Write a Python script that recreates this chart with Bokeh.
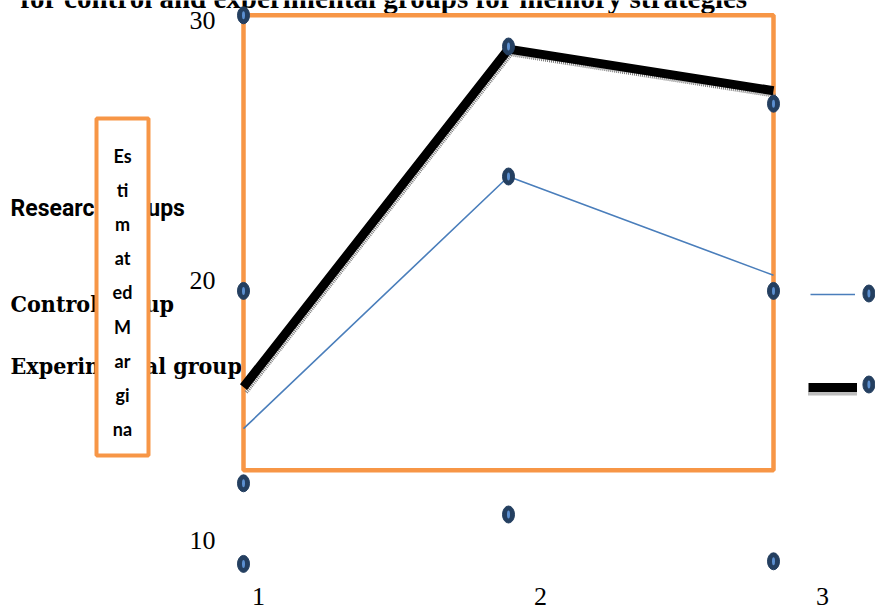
from bokeh.plotting import figure
from bokeh.models import Range1d, Legend, LegendItem, ColumnDataSource
from bokeh.core.properties import value
from bokeh.transform import dodge
from bokeh.embed import file_html
from bokeh.resources import INLINE

# ---- data ----
groups_x = [1, 2, 3]
control = [14.3, 24.0, 20.2]
experimental = [15.9, 28.9, 27.3]
series_names = ["Control group", "Experimental group"]
legend_title = "Research groups"
axis_title_fragments = ["Es", "ti", "m", "at", "ed", "M", "ar", "gi", "na"]
chart_title = "for control and experimental groups for memory strategies"
y_ticks = [10, 20, 30]
y_tick_labels = ["10", "20", "30"]
x_ticks = [1, 2, 3]
x_tick_labels = ["1", "2", "3"]
handle_x = [1, 1, 1, 1, 2, 2, 2, 3, 3, 3, 3.36, 3.36]
handle_y = [30.2, 19.6, 12.2, 9.1, 29.0, 24.0, 11.0, 26.8, 19.6, 9.2, 19.5, 16.0]
plot_area_bottom, plot_area_top = 12.7, 30.2

# ---- styling ----
ORANGE = "#F79646"
BLUE = "#4A7EBB"
NAVY = "#243F60"
LIGHT = "#5B8FD0"
SERIF = value("Liberation Serif")

W, H = 875, 616
p = figure(width=W, height=H, output_backend="svg", toolbar_location=None,
           x_axis_location=None, y_axis_location=None, min_border=0,
           x_range=Range1d(1 - 243 / 265, 1 + (W - 243) / 265),
           y_range=Range1d(20 - (H - 280) / 26, 20 + 280 / 26))
p.outline_line_color = None
p.xgrid.visible = False
p.ygrid.visible = False
p.extra_x_ranges = {"lab": Range1d(1 - 258 / 282, 1 + (W - 258) / 282)}

# cut-off title at the very top (as in the reference)
p.text(x=[0.158], y=[30.54], text=[chart_title], text_font=SERIF, text_font_style="bold",
       text_font_size="29px", text_baseline="alphabetic", text_align="left", text_color="black",
       y_offset=-8)

# legend title and labels displaced to the left
p.text(x=[0.121], y=[22.77], text=[legend_title], text_font=value("Roboto"),
       text_font_style="bold", text_font_size="23px", text_baseline="middle", text_color="black")
p.text(x=[0.121, 0.121], y=[19.12, 16.73], text=series_names,
       text_font=value("DejaVu Serif Condensed, DejaVu Serif"), text_font_style="bold",
       text_font_size="23px", text_baseline="middle", text_color="black")

# axis title box (narrow, wrapped)
p.quad(left=[0.4453], right=[0.6415], top=[26.23], bottom=[13.27],
       fill_color="white", line_color=ORANGE, line_width=4)
p.text(x=[0.5434], y=[19.54], text=["\n".join(axis_title_fragments)], text_font=value("Lato"),
       text_font_style="bold", text_font_size="18px", text_align="center", text_baseline="middle",
       text_line_height=1.55, text_color="black")

# y tick labels
p.text(x=[0.894] * len(y_ticks), y=y_ticks, text=y_tick_labels, text_font=SERIF,
       text_font_size="26px", text_align="right", text_baseline="middle", text_color="black")
# x tick labels
p.text(x=x_ticks, y=[8.19] * len(x_ticks), text=x_tick_labels, text_font=SERIF,
       text_font_size="26px", text_align="center", text_baseline="top", text_color="black",
       x_range_name="lab")

# plot area border
p.quad(left=[min(groups_x)], right=[max(groups_x)], top=[plot_area_top], bottom=[plot_area_bottom],
       fill_color=None, line_color=ORANGE, line_width=4.5)

src = ColumnDataSource(dict(x=groups_x, ctrl=control, exp=experimental))
blue_r = p.line("x", "ctrl", source=src, line_color=BLUE, line_width=1.6)
shadow_r = p.line(dodge("x", 0.01), dodge("exp", -0.2), source=src, line_color="#7a7a7a",
                  line_width=4, line_dash="1 1")
black_r = p.line("x", "exp", source=src, line_color="black", line_width=9)

# handles
p.ellipse(x=handle_x, y=handle_y, width=12, height=17, width_units="screen", height_units="screen",
          fill_color=NAVY, line_color=NAVY)
p.ellipse(x=handle_x, y=handle_y, width=3, height=8, width_units="screen", height_units="screen",
          fill_color=LIGHT, line_color=None)

common = dict(padding=0, margin=0, spacing=0, glyph_height=10, label_width=0, label_height=10,
              label_standoff=0, label_text_font_size="4px", border_line_color=None,
              background_fill_alpha=0)
leg1 = Legend(items=[LegendItem(label=" ", renderers=[blue_r])], location=(810, 317),
              glyph_width=45, **common)
leg_shadow = Legend(items=[LegendItem(label=" ", renderers=[shadow_r])], location=(808, 218),
                    glyph_width=49, **common)
leg2 = Legend(items=[LegendItem(label=" ", renderers=[black_r])], location=(808, 224),
              glyph_width=49, **common)
p.add_layout(leg1)
p.add_layout(leg_shadow)
p.add_layout(leg2)

open("out.html", "w").write(file_html(p, INLINE))
